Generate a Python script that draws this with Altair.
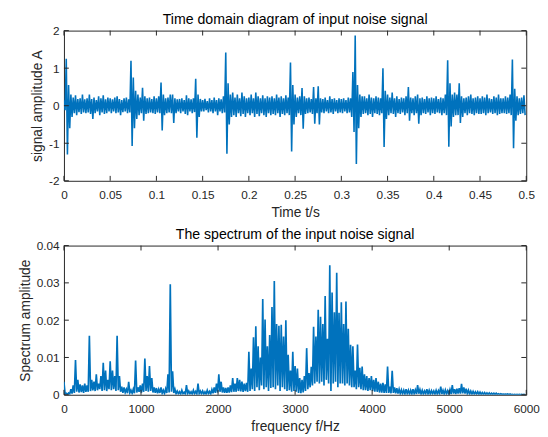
import altair as alt
import pandas as pd

# ---- time-domain signal: per-bin upper / lower excursions (bin = 0.0025 s) ----
T_DT = 0.0025
T_HI = [0.15, 1.25, 0.55, 0.3, 0.22, 0.28, 0.18, 0.2, 0.3, 0.17,
        0.2, 0.3, 0.18, 0.22, 0.15, 0.25, 0.2, 0.28, 0.17, 0.22,
        0.2, 0.17, 0.22, 0.25, 0.18, 0.15, 0.2, 0.22, 0.17, 1.2,
        0.75, 0.4, 0.3, 0.22, 0.48, 0.25, 0.2, 0.22, 0.18, 0.25,
        0.2, 0.25, 0.62, 0.3, 0.2, 0.22, 0.3, 0.3, 0.2, 0.17,
        0.18, 0.2, 0.15, 0.28, 0.2, 0.17, 0.2, 0.72, 0.3, 0.18,
        0.15, 0.18, 0.12, 0.2, 0.15, 0.22, 0.15, 0.2, 0.17, 0.25,
        1.42, 0.6, 0.3, 0.35, 0.22, 0.3, 0.2, 0.35, 0.25, 0.2,
        0.22, 0.3, 0.2, 0.35, 0.25, 0.2, 0.28, 0.2, 0.25, 0.22,
        0.25, 0.2, 0.3, 0.22, 0.25, 0.2, 0.28, 0.22, 1.15, 0.55,
        0.3, 0.22, 0.25, 0.47, 0.25, 0.2, 0.22, 0.18, 0.5, 0.2,
        0.52, 0.2, 0.18, 0.22, 0.15, 0.25, 0.18, 0.2, 0.15, 0.2,
        0.18, 0.2, 0.15, 0.22, 0.2, 0.9, 1.87, 0.55, 0.3, 0.25,
        0.25, 0.2, 0.3, 0.22, 0.2, 0.25, 0.22, 0.2, 1.0, 0.4,
        0.3, 0.22, 0.35, 0.2, 0.25, 0.18, 0.22, 0.2, 0.25, 0.5,
        0.22, 0.2, 0.25, 0.3, 0.2, 0.22, 0.18, 0.25, 0.2, 0.22,
        0.2, 0.25, 0.18, 0.22, 0.2, 0.3, 1.21, 0.6, 0.3, 0.35,
        0.3, 0.6, 0.25, 0.2, 0.22, 0.25, 0.3, 0.2, 0.22, 0.25,
        0.2, 0.25, 0.22, 0.3, 0.2, 0.18, 0.25, 0.22, 0.3, 0.2,
        0.2, 0.25, 0.22, 0.3, 1.23, 0.45, 0.25, 0.2, 0.22, 0.28]
T_LO = [-0.12, -1.3, -0.6, -0.3, -0.2, -0.25, -0.17, -0.22, -0.18, -0.2,
        -0.18, -0.22, -0.35, -0.2, -0.15, -0.25, -0.18, -0.22, -0.2, -0.15,
        -0.2, -0.15, -0.2, -0.18, -0.25, -0.17, -0.15, -0.2, -0.18, -1.07,
        -0.6, -0.35, -0.25, -0.2, -0.4, -0.22, -0.2, -0.18, -0.2, -0.22,
        -0.18, -0.2, -0.66, -0.25, -0.2, -0.18, -0.2, -0.46, -0.2, -0.15,
        -0.2, -0.15, -0.22, -0.25, -0.15, -0.2, -0.17, -0.85, -0.3, -0.15,
        -0.15, -0.12, -0.18, -0.15, -0.2, -0.15, -0.25, -0.15, -0.2, -0.18,
        -1.28, -0.5, -0.3, -0.25, -0.3, -0.2, -0.28, -0.22, -0.3, -0.2,
        -0.25, -0.2, -0.3, -0.22, -0.28, -0.2, -0.25, -0.3, -0.2, -0.25,
        -0.22, -0.25, -0.2, -0.3, -0.22, -0.25, -0.2, -0.25, -1.22, -0.5,
        -0.3, -0.2, -0.25, -0.61, -0.22, -0.2, -0.18, -0.22, -0.48, -0.2,
        -0.5, -0.18, -0.2, -0.15, -0.2, -0.18, -0.22, -0.15, -0.2, -0.18,
        -0.2, -0.15, -0.2, -0.18, -0.3, -0.7, -1.55, -0.6, -0.3, -0.22,
        -0.2, -0.25, -0.22, -0.3, -0.2, -0.22, -0.25, -0.2, -1.1, -0.35,
        -0.25, -0.2, -0.22, -0.3, -0.2, -0.22, -0.18, -0.25, -0.2, -0.4,
        -0.2, -0.25, -0.2, -0.48, -0.25, -0.2, -0.22, -0.18, -0.25, -0.2,
        -0.22, -0.18, -0.2, -0.25, -0.2, -0.25, -1.09, -0.55, -0.3, -0.25,
        -0.25, -0.46, -0.3, -0.2, -0.25, -0.2, -0.22, -0.25, -0.2, -0.22,
        -0.22, -0.2, -0.25, -0.2, -0.18, -0.22, -0.2, -0.25, -0.22, -0.2,
        -0.2, -0.22, -0.2, -0.25, -1.13, -0.4, -0.25, -0.22, -0.2, -0.25]

# ---- spectrum: per-bin peak / floor (bin = 30 Hz) ----
S_DF = 30
S_PK = [0.0035, 0.0004, 0.0005, 0.0015, 0.0025, 0.0093, 0.004, 0.0028, 0.0025, 0.003,
        0.0025, 0.0158, 0.004, 0.0035, 0.0055, 0.003, 0.005, 0.0086, 0.0065, 0.004,
        0.009, 0.0065, 0.005, 0.0158, 0.005, 0.0022, 0.002, 0.0015, 0.0035, 0.0012,
        0.0015, 0.0092, 0.002, 0.0025, 0.003, 0.0097, 0.005, 0.0077, 0.0045, 0.002,
        0.0018, 0.0015, 0.002, 0.0012, 0.0016, 0.0055, 0.0296, 0.0063, 0.0015, 0.001,
        0.0008, 0.0012, 0.0007, 0.0026, 0.001, 0.0008, 0.0012, 0.0009, 0.003, 0.001,
        0.001, 0.0008, 0.0012, 0.0009, 0.0014, 0.002, 0.003, 0.0055, 0.0035, 0.002,
        0.0018, 0.002, 0.0025, 0.0045, 0.003, 0.0045, 0.004, 0.0035, 0.003, 0.0032,
        0.0115, 0.007, 0.0154, 0.0184, 0.013, 0.01, 0.0257, 0.0202, 0.013, 0.016,
        0.0235, 0.0305, 0.019, 0.0185, 0.0188, 0.0156, 0.02, 0.0107, 0.0065, 0.0115,
        0.0077, 0.007, 0.0045, 0.004, 0.005, 0.0125, 0.0058, 0.0075, 0.0182, 0.0156,
        0.0228, 0.0209, 0.019, 0.0265, 0.015, 0.0347, 0.0274, 0.0221, 0.0327, 0.022,
        0.0248, 0.019, 0.025, 0.0177, 0.0134, 0.013, 0.0065, 0.0135, 0.0072, 0.0076,
        0.0055, 0.005, 0.0045, 0.005, 0.004, 0.0045, 0.0035, 0.003, 0.0032, 0.0028,
        0.0076, 0.0022, 0.0064, 0.002, 0.0018, 0.0015, 0.0013, 0.0012, 0.0015, 0.0012,
        0.0012, 0.0015, 0.0013, 0.0026, 0.0014, 0.0012, 0.001, 0.0015, 0.0012, 0.0011,
        0.001, 0.0012, 0.0011, 0.0022, 0.0012, 0.0013, 0.0011, 0.0014, 0.0026, 0.0015,
        0.0016, 0.0018, 0.0029, 0.002, 0.0016, 0.0012, 0.001, 0.0009, 0.0008, 0.0008,
        0.0007, 0.0006, 0.0006, 0.0005, 0.0005, 0.0004, 0.0004, 0.0004, 0.0003, 0.0003,
        0.0002, 0.0002, 0.0002, 0.0002, 0.0001, 0.0001, 0.0001, 0.0001, 0.0001, 0.0001]
S_FL = [0.0002, 0.0001, 0.0002, 0.0003, 0.0005, 0.0008, 0.0006, 0.0007, 0.0005, 0.0008,
        0.0008, 0.001, 0.0012, 0.001, 0.0012, 0.0015, 0.001, 0.0012, 0.001, 0.0015,
        0.0012, 0.0015, 0.001, 0.0012, 0.0008, 0.0005, 0.0006, 0.0004, 0.0005, 0.0004,
        0.0004, 0.0006, 0.0008, 0.0006, 0.0008, 0.001, 0.0008, 0.001, 0.0006, 0.0005,
        0.0004, 0.0005, 0.0004, 0.0003, 0.0005, 0.0006, 0.0008, 0.0005, 0.0003, 0.0003,
        0.0002, 0.0003, 0.0002, 0.0003, 0.0003, 0.0002, 0.0003, 0.0002, 0.0003, 0.0003,
        0.0002, 0.0002, 0.0003, 0.0002, 0.0004, 0.0005, 0.0006, 0.0008, 0.0006, 0.0005,
        0.0005, 0.0006, 0.0007, 0.0008, 0.0008, 0.001, 0.0009, 0.0008, 0.001, 0.0008,
        0.001, 0.0015, 0.001, 0.002, 0.0012, 0.0025, 0.0015, 0.002, 0.001, 0.0018,
        0.002, 0.0015, 0.0025, 0.001, 0.002, 0.0015, 0.001, 0.0012, 0.0008, 0.001,
        0.0008, 0.0005, 0.0004, 0.0006, 0.001, 0.0015, 0.002, 0.0025, 0.003, 0.0035,
        0.003, 0.0035, 0.0025, 0.004, 0.003, 0.001, 0.003, 0.0035, 0.002, 0.003,
        0.003, 0.0025, 0.003, 0.0025, 0.002, 0.002, 0.0015, 0.002, 0.0015, 0.0012,
        0.0012, 0.001, 0.0012, 0.001, 0.0008, 0.0008, 0.0006, 0.0006, 0.0005, 0.0005,
        0.0005, 0.0004, 0.0005, 0.0004, 0.0003, 0.0003, 0.0003, 0.0002, 0.0003, 0.0002,
        0.0002, 0.0003, 0.0002, 0.0003, 0.0002, 0.0002, 0.0003, 0.0002, 0.0002, 0.0003,
        0.0002, 0.0002, 0.0003, 0.0002, 0.0002, 0.0003, 0.0002, 0.0002, 0.0003, 0.0002,
        0.0003, 0.0003, 0.0004, 0.0003, 0.0003, 0.0002, 0.0002, 0.0002, 0.0002, 0.0001,
        0.0001, 0.0001, 0.0001, 0.0001, 0.0001, 0.0001, 0.0001, 0.0001, 0.0001, 0.0001,
        0.0001, 0.0001, 0.0, 0.0, 0.0, 0.0, 0.0, 0.0, 0.0, 0.0]

T_XTICKS = [0, 0.05, 0.1, 0.15, 0.2, 0.25, 0.3, 0.35, 0.4, 0.45, 0.5]
T_YTICKS = [-2, -1, 0, 1, 2]
S_XTICKS = [0, 1000, 2000, 3000, 4000, 5000, 6000]
S_YTICKS = [0, 0.01, 0.02, 0.03, 0.04]

BLUE = "#0072BD"
AX = "#262626"
FONT = "Liberation Sans"
W = 471


def zigzag(step, hi, lo, xname, yname):
    xs, ys = [], []
    for i, (a, b) in enumerate(zip(hi, lo)):
        xs += [i * step, i * step + step / 2]
        ys += [a, b]
    return pd.DataFrame({xname: xs, yname: ys})


def panel(df, xf, yf, xdom, ydom, xt, yt, title, xtitle, ytitle, H, sw):
    xs = alt.Scale(domain=xdom, nice=False, zero=False)
    ys = alt.Scale(domain=ydom, nice=False, zero=False)
    xa = alt.Axis(values=xt, title=xtitle, labelExpr="'' + datum.value")
    ya = alt.Axis(values=yt, title=ytitle, labelExpr="'' + datum.value")
    line = alt.Chart(df).mark_line(color=BLUE, strokeWidth=sw, clip=True).encode(
        x=alt.X(f"{xf}:Q", scale=xs, axis=xa),
        y=alt.Y(f"{yf}:Q", scale=ys, axis=ya),
    )
    xdf = pd.DataFrame({"tv": xt})
    ydf = pd.DataFrame({"tv": yt})
    xb = alt.Chart(xdf).mark_rule(color=AX, strokeWidth=1).encode(
        x=alt.X("tv:Q", scale=xs, axis=xa), y=alt.value(H - 5), y2=alt.value(H))
    xtop = alt.Chart(xdf).mark_rule(color=AX, strokeWidth=1).encode(
        x=alt.X("tv:Q", scale=xs, axis=xa), y=alt.value(0), y2=alt.value(5))
    yl = alt.Chart(ydf).mark_rule(color=AX, strokeWidth=1).encode(
        y=alt.Y("tv:Q", scale=ys, axis=ya), x=alt.value(0), x2=alt.value(5))
    yr = alt.Chart(ydf).mark_rule(color=AX, strokeWidth=1).encode(
        y=alt.Y("tv:Q", scale=ys, axis=ya), x=alt.value(W - 5), x2=alt.value(W))
    return alt.layer(line, xb, xtop, yl, yr).properties(
        width=W, height=H, title=title)


tdf = zigzag(T_DT, T_HI, T_LO, "t", "a")
sdf = zigzag(S_DF, S_PK, S_FL, "f", "s")

top = panel(tdf, "t", "a", [0, 0.5], [-2, 2], T_XTICKS, T_YTICKS,
            "Time domain diagram of input noise signal", "Time t/s",
            "signal amplitude A", 153, 1.6)
bottom = panel(sdf, "f", "s", [0, 6000], [0, 0.04], S_XTICKS, S_YTICKS,
               "The spectrum of the input noise signal", "frequency f/Hz",
               "Spectrum amplitude", 152, 1.7)

chart = alt.vconcat(top, bottom, spacing=7).properties(
    padding={"left": 10, "top": 0, "right": 0, "bottom": 0}
).configure_view(stroke=AX, strokeWidth=1).configure_axis(
    labelFont=FONT, titleFont=FONT, labelFontSize=12, titleFontSize=14,
    titleFontWeight="normal", labelColor=AX, titleColor=AX,
    domain=False, grid=False, ticks=False, labelOverlap=False, labelFlush=False,
).configure_axisX(labelPadding=9, titlePadding=5).configure_axisY(
    labelPadding=5, titlePadding=4
).configure_title(
    font=FONT, fontSize=14.4, fontWeight="normal", color="#000000", offset=-3,
    anchor="middle"
)

chart.save("out.html", embed_options={"renderer": "svg", "actions": False})
